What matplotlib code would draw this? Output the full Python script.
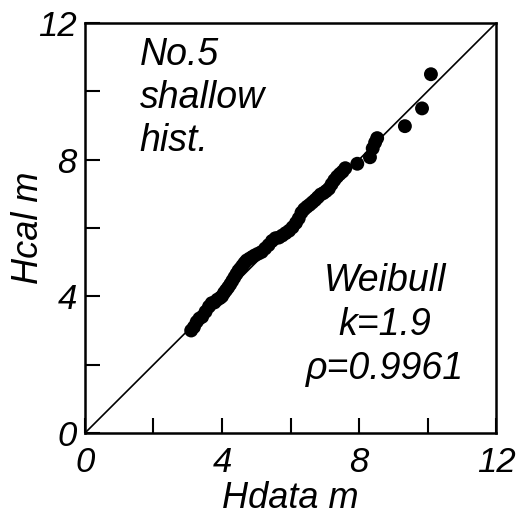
import numpy as np
import matplotlib.pyplot as plt

hdata = [3.10, 3.18, 3.26, 3.34, 3.42, 3.52, 3.62, 3.70, 3.78, 3.86, 3.94,
         4.00, 4.06, 4.12, 4.18, 4.24, 4.30, 4.36, 4.42, 4.48, 4.54, 4.60,
         4.66, 4.72, 4.80, 4.88, 4.96, 5.06, 5.16, 5.26, 5.36, 5.46, 5.56,
         5.66, 5.76, 5.86, 5.96, 6.06, 6.16, 6.24, 6.32, 6.40, 6.48, 6.56,
         6.64, 6.72, 6.80, 6.88, 6.96, 7.04, 7.12, 7.20, 7.28, 7.36, 7.44,
         7.52, 7.60, 7.95, 8.32, 8.40, 8.47, 8.53, 9.34, 9.84, 10.10]
hcal = [3.00, 3.10, 3.25, 3.35, 3.40, 3.55, 3.70, 3.80, 3.82, 3.90, 3.95,
        4.00, 4.10, 4.18, 4.26, 4.35, 4.45, 4.55, 4.65, 4.75, 4.82, 4.90,
        4.98, 5.05, 5.10, 5.15, 5.20, 5.25, 5.30, 5.40, 5.50, 5.62, 5.70,
        5.72, 5.78, 5.85, 5.92, 6.02, 6.15, 6.28, 6.45, 6.55, 6.62, 6.68,
        6.75, 6.82, 6.90, 6.98, 7.02, 7.08, 7.15, 7.28, 7.40, 7.50, 7.58,
        7.65, 7.75, 7.88, 8.07, 8.33, 8.50, 8.63, 8.98, 9.50, 10.50]

plt.rcParams['font.family'] = ['Liberation Sans', 'DejaVu Sans']

fig = plt.figure(figsize=(5.17, 5.21), dpi=100)
ax = fig.add_axes([0.1644, 0.1689, 0.795, 0.787])

ax.plot([0, 12], [0, 12], color='black', lw=1.2, zorder=1)
ax.scatter(hdata, hcal, s=100, color='black', edgecolors='none', zorder=2)

ax.set_xlim(0, 12)
ax.set_ylim(0, 12)
ax.set_xticks(np.arange(0, 13, 2))
ax.set_yticks(np.arange(0, 13, 2))
ax.set_xticklabels(['0', '', '4', '', '8', '', '12'])
ax.set_yticklabels(['0', '', '4', '', '8', '', '12'])
ax.tick_params(direction='in', length=11, width=1.5, labelsize=25)
ax.tick_params(axis='x', pad=9)
ax.tick_params(axis='y', pad=6)
for lab in ax.get_xticklabels() + ax.get_yticklabels():
    lab.set_style('italic')
for sp in ax.spines.values():
    sp.set_linewidth(1.8)

ax.set_xlabel('Hdata m', fontsize=26, style='italic', labelpad=2)
ax.set_ylabel('Hcal m', fontsize=26, style='italic', labelpad=-6)

ax.text(1.6, 11.6, 'No.5\nshallow\nhist.', fontsize=27, style='italic',
        va='top', ha='left', linespacing=1.25)
ax.text(8.76, 3.16, 'Weibull\nk=1.9\n\u03c1=0.9961', fontsize=27,
        style='italic', va='center', ha='center', linespacing=1.3)

fig.savefig('out.png', dpi=100)
